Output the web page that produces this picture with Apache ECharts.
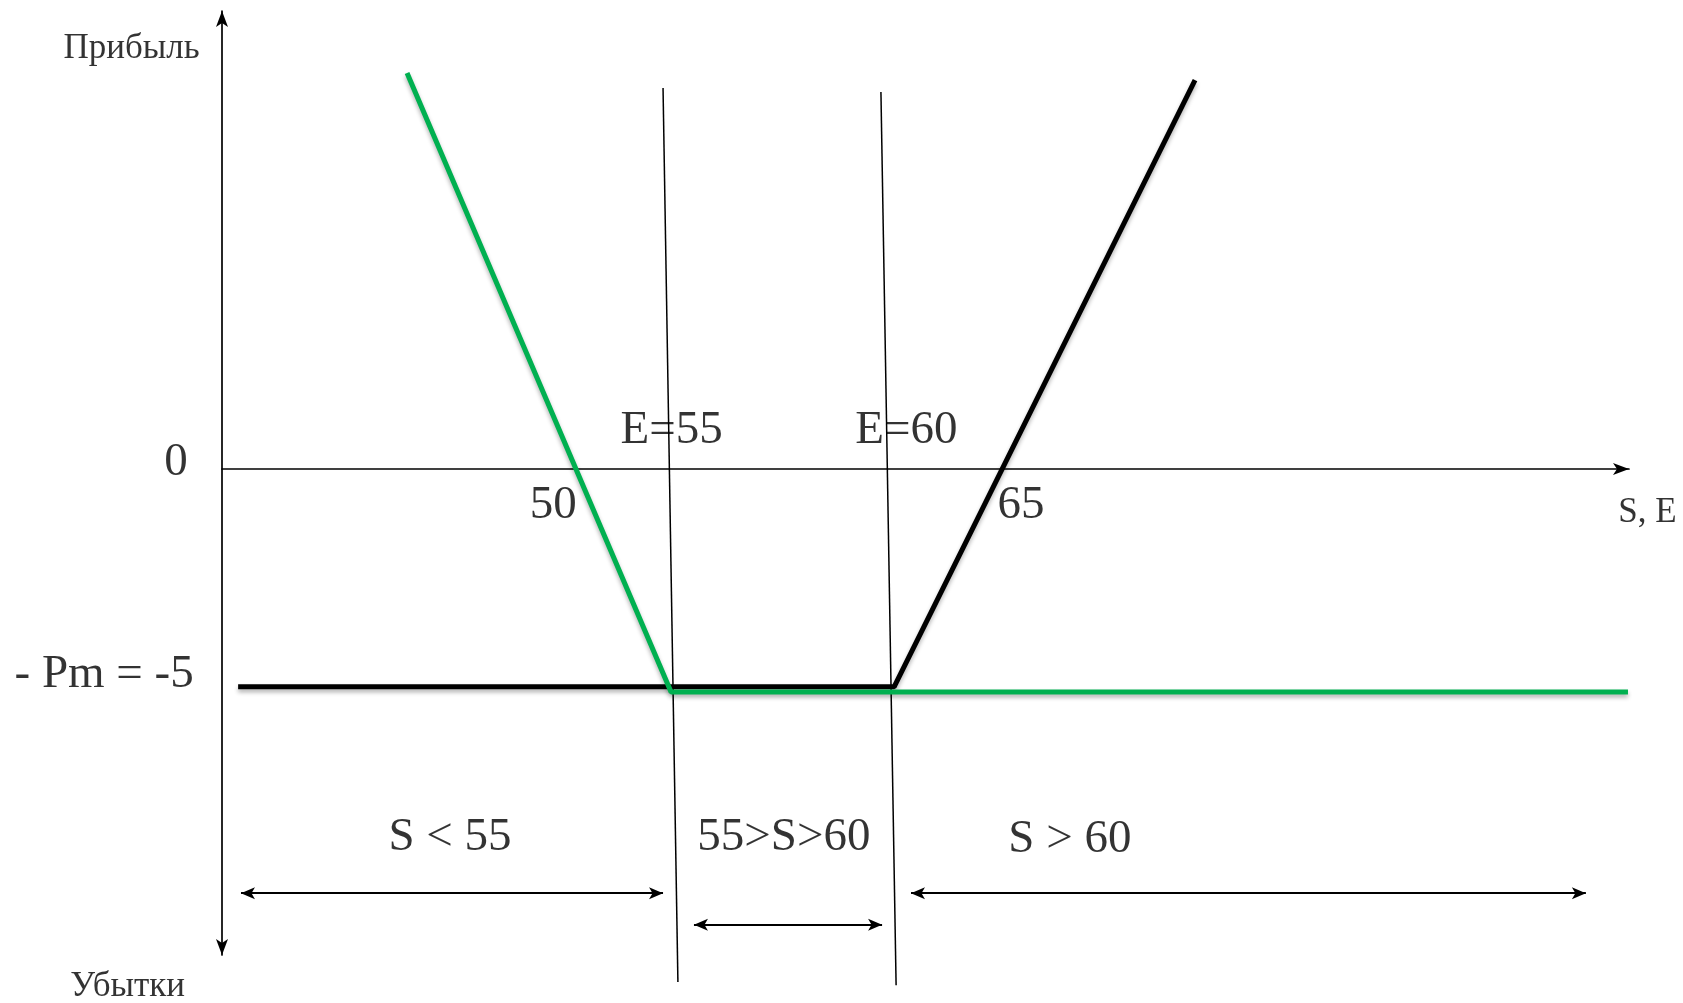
<!DOCTYPE html>
<html>
<head>
<meta charset="utf-8">
<script src="https://cdn.jsdelivr.net/npm/echarts@6/dist/echarts.min.js"></script>
<style>
  html, body { margin: 0; padding: 0; background: #fff; }
  #chartBox { width: 1683px; height: 1003px; }
</style>
</head>
<body>
<div id="chartBox"></div>
<script>
// диаграмма прибыли/убытков (значения в единицах эскиза)
var putLine = [[44.17, 9.0], [53.39, -5.07], [86.81, -5.07]]     // зелёная
var callLine = [[38.27, -4.95], [61.18, -4.95], [71.69, 8.84]]   // чёрная

// наклонные вертикали E=55 и E=60
var strike55 = [[53.11, 8.66], [53.63, -11.66]]
var strike60 = [[60.72, 8.57], [61.25, -11.73]]

// двойные стрелки зон
var zoneArrows = [
  [[38.37, -9.64], [53.11, -9.64]],
  [[54.19, -10.36], [60.76, -10.36]],
  [[61.77, -9.64], [85.34, -9.64]]
]

// подписи [x, y, текст]
var bigLabels = [
  [36.10, 0.14, '0'],
  [33.59, -4.67, '- Pm = -5'],
  [49.28, -0.84, '50'],
  [65.61, -0.84, '65'],
  [53.41, 0.87, 'E=55'],
  [61.61, 0.87, 'E=60'],
  [45.67, -8.38, 'S < 55'],
  [57.33, -8.38, '55>S>60'],
  [67.32, -8.42, 'S > 60']
]
var smallLabels = [
  [34.55, 9.55, 'Прибыль'],
  [34.41, -11.76, 'Убытки'],
  [87.49, -0.99, 'S, E']
]

var shadow = {
  shadowColor: 'rgba(0,0,0,0.3)',
  shadowBlur: 4,
  shadowOffsetY: 3
}

var textSeries = function (data, size) {
  return {
    type: 'scatter',
    data: data,
    symbolSize: 0,
    clip: false,
    silent: true,
    label: {
      show: true,
      position: 'inside',
      formatter: function (p) { return p.data[2] },
      color: '#000',
      textBorderWidth: 0,
      fontFamily: '"Liberation Serif", "DejaVu Serif", serif',
      fontSize: size
    }
  }
}

var thinLine = function (data) {
  return {
    type: 'line',
    data: data,
    symbol: 'none',
    clip: false,
    silent: true,
    lineStyle: { color: '#000', width: 1.5 }
  }
}

var option = {
  animation: false,
  backgroundColor: '#fff',
  grid: { left: 222, right: 54, top: 11, bottom: 48 },
  xAxis: {
    type: 'value',
    min: 37.707,
    max: 86.846,
    axisLine: {
      show: true,
      onZero: true,
      symbol: ['none', 'arrow'],
      symbolSize: [9, 16],
      lineStyle: { color: '#000', width: 1.7 }
    },
    axisTick: { show: false },
    axisLabel: { show: false },
    splitLine: { show: false }
  },
  yAxis: {
    type: 'value',
    min: -11.045,
    max: 10.41,
    axisLine: {
      show: true,
      onZero: false,
      symbol: ['arrow', 'arrow'],
      symbolSize: [9, 16],
      lineStyle: { color: '#000', width: 1.7 }
    },
    axisTick: { show: false },
    axisLabel: { show: false },
    splitLine: { show: false }
  },
  series: [
    thinLine(strike55),
    thinLine(strike60),
    {
      type: 'line',
      data: callLine,
      symbol: 'none',
      clip: false,
      silent: true,
      lineStyle: Object.assign({ color: '#000', width: 5 }, shadow)
    },
    {
      type: 'line',
      data: putLine,
      symbol: 'none',
      clip: false,
      silent: true,
      lineStyle: Object.assign({ color: '#00B050', width: 5 }, shadow)
    },
    {
      type: 'line',
      data: [],
      silent: true,
      markLine: {
        silent: true,
        symbol: ['arrow', 'arrow'],
        symbolSize: [9, 14],
        label: { show: false },
        lineStyle: { color: '#000', width: 2.2, type: 'solid' },
        data: zoneArrows.map(function (a) {
          return [{ coord: a[0] }, { coord: a[1] }]
        })
      }
    },
    textSeries(bigLabels, 47),
    textSeries(smallLabels, 35)
  ]
}

var chartDom = document.getElementById('chartBox')
var chart = echarts.init(chartDom)
chart.setOption(option)
</script>
</body>
</html>
